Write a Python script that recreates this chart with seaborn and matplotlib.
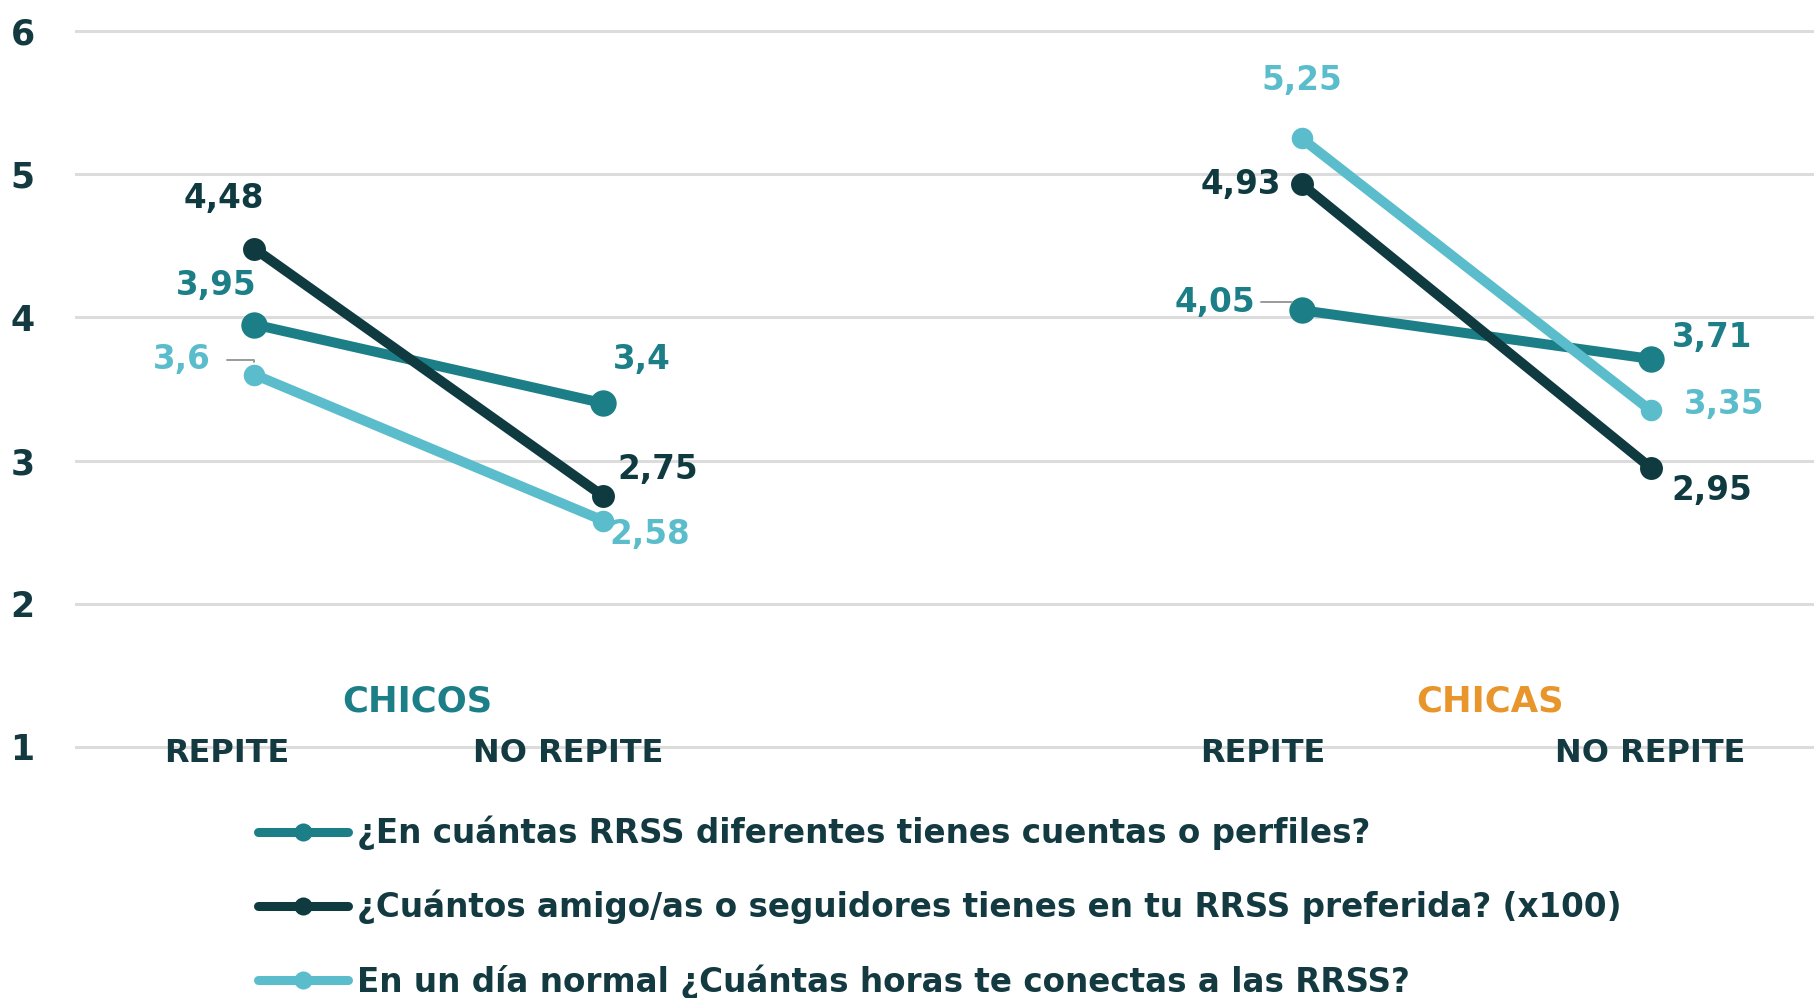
import matplotlib
matplotlib.use("Agg")
import matplotlib.pyplot as plt
import seaborn as sns
import pandas as pd
from matplotlib.lines import Line2D

# --- data -------------------------------------------------------------
groups = ["CHICOS", "CHICAS"]
categories = ["REPITE", "NO REPITE"]
series_labels = [
    "¿En cuántas RRSS diferentes tienes cuentas o perfiles?",
    "¿Cuántos amigo/as o seguidores tienes en tu RRSS preferida? (x100)",
    "En un día normal ¿Cuántas horas te conectas a las RRSS?",
]
# order: chicos-repite, chicos-no repite, chicas-repite, chicas-no repite
redes = [3.95, 3.40, 4.05, 3.71]
amigos = [4.48, 2.75, 4.93, 2.95]
horas = [3.60, 2.58, 5.25, 3.35]
y_ticks = [1, 2, 3, 4, 5, 6]

# --- styling ----------------------------------------------------------
TEAL = "#1c7f87"
DARK = "#0e3a40"
LIGHT = "#5bbdcc"
ORANGE = "#e8952c"
TEXT = "#133a40"
GRID = "#dcdcdc"

colors = [TEAL, DARK, LIGHT]
marker_sizes = [19, 16.5, 15.5]
zorders = [3, 5, 4]
positions = [0, 1, 3, 4]            # x slot of every point
group_of = [0, 0, 1, 1]
cat_of = [0, 1, 0, 1]

sns.set_theme(style="white")
plt.rcParams["font.family"] = ["DejaVu Sans"]
plt.rcParams["font.weight"] = "bold"

rows = []
for s, vals in enumerate([redes, amigos, horas]):
    for i, v in enumerate(vals):
        rows.append({"serie": series_labels[s], "grupo": groups[group_of[i]],
                     "categoria": categories[cat_of[i]], "pos": positions[i],
                     "valor": v})
df = pd.DataFrame(rows)

W, H = 1814, 998
fig = plt.figure(figsize=(W / 100, H / 100), dpi=100)
left = 75 / W
ax = fig.add_axes([left, 0, 1 - left, 1])

for s, label in enumerate(series_labels):
    sub = df[df["serie"] == label]
    sns.lineplot(data=sub, x="pos", y="valor", units="grupo", estimator=None,
                 color=colors[s], lw=7.2, marker="o", markersize=marker_sizes[s],
                 markeredgewidth=0, ax=ax, zorder=zorders[s], legend=False,
                 solid_capstyle="round")

ax.set_xlim(-0.514, 4.468)
ax.set_ylim(-0.753, 6.216)
ax.set_yticks(y_ticks)
ax.set_yticklabels([str(t) for t in y_ticks], fontsize=25, fontweight="bold",
                   color=TEXT)
ax.set_xticks([])
ax.tick_params(axis="y", length=0, pad=29)
ax.yaxis.grid(True, color=GRID, lw=2.2, zorder=0)
ax.set_axisbelow(True)
ax.set_xlabel("")
ax.set_ylabel("")
for sp in ax.spines.values():
    sp.set_visible(False)

# value labels (offsets in pixels)
offsets = {
    0: [(-38, 39), (38, 44), (-87, 8), (61, 21)],
    1: [(-31, 50), (54, 27), (-61, 0), (61, -23)],
    2: [(-73, 15), (46, -14), (0, 58), (73, 6)],
}
leaders = {(2, 0): 46, (0, 2): 46}
for s, vals in enumerate([redes, amigos, horas]):
    for i, v in enumerate(vals):
        txt = f"{v:g}".replace(".", ",")
        dx, dy = offsets[s][i]
        ax.annotate(txt, (positions[i], v), xytext=(dx, dy),
                    textcoords="offset pixels", ha="center", va="center",
                    fontsize=23.5, fontweight="bold", color=colors[s], zorder=6)
        if (s, i) in leaders:
            ax.annotate("", (positions[i], v), xytext=(dx + leaders[(s, i)], dy),
                        textcoords="offset pixels",
                        arrowprops=dict(arrowstyle="-", color="#9a9a9a", lw=1.4,
                                        shrinkA=0, shrinkB=9,
                                        connectionstyle="angle,angleA=0,angleB=90,rad=0"))

# category and group labels
cat_x = [-0.08, 0.90, 2.89, 4.0]
for i, x in enumerate(cat_x):
    ax.text(x, 0.955, categories[cat_of[i]], ha="center", va="center",
            fontsize=23, fontweight="bold", color=TEXT)
ax.text(0.468, 1.32, groups[0], ha="center", va="center", fontsize=25.5,
        fontweight="bold", color=TEAL)
ax.text(3.54, 1.32, groups[1], ha="center", va="center", fontsize=25.5,
        fontweight="bold", color=ORANGE)

handles = [Line2D([0], [0], color=c, lw=6.5, marker="o", markersize=13,
                  markeredgewidth=0, solid_capstyle="round") for c in colors]
leg = fig.legend(handles, series_labels, loc="center left",
                 bbox_to_anchor=(258 / W, 91 / H), frameon=False,
                 fontsize=23.5, handlelength=2.75, handletextpad=0.28,
                 labelspacing=1.22, borderpad=0, borderaxespad=0)
for t in leg.get_texts():
    t.set_color(TEXT)
    t.set_fontweight("bold")

fig.savefig("out.png", dpi=100, facecolor="white")
